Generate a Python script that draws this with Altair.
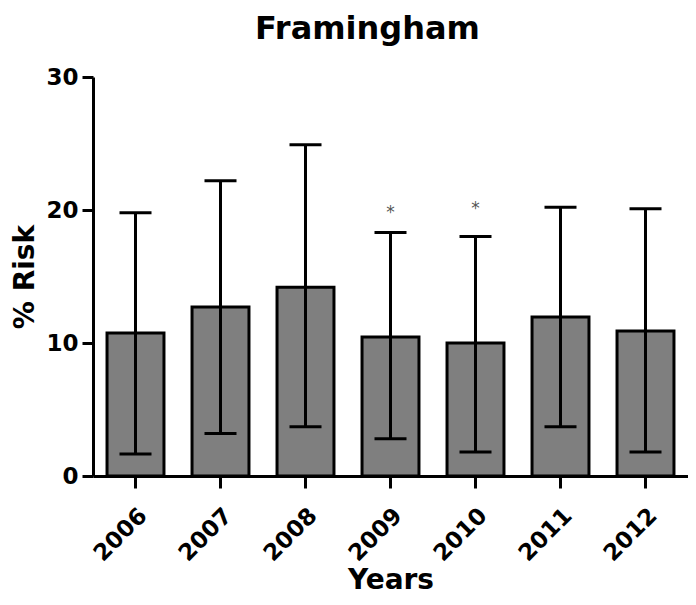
import altair as alt
import pandas as pd

years = ["2006", "2007", "2008", "2009", "2010", "2011", "2012"]
mean_risk = [10.75, 12.7, 14.2, 10.45, 10.0, 11.95, 10.9]
upper_err = [19.8, 22.2, 24.9, 18.3, 18.0, 20.2, 20.1]
lower_err = [1.65, 3.2, 3.7, 2.8, 1.8, 3.7, 1.8]
star_years = ["2009", "2010"]
star_pos = [19.8, 20.1]
star_text = ["*", "*"]
y_ticks = [0, 10, 20, 30]

df = pd.DataFrame({"Year": years, "Mean": mean_risk, "Lower": lower_err, "Upper": upper_err})
stars = pd.DataFrame({"Year": star_years, "Y": star_pos, "Label": star_text})

FONT = "DejaVu Sans"

x_enc = alt.X(
    "Year:N",
    sort=years,
    title="Years",
    scale=alt.Scale(paddingInner=0.33, paddingOuter=0.165),
    axis=alt.Axis(labelAngle=-45, labelPadding=16, tickSize=12, titlePadding=1),
)
y_scale = alt.Scale(domain=[0, 30], nice=False)

bars = alt.Chart(df).mark_bar(color="#7f7f7f", stroke="black", strokeWidth=3, opacity=1).encode(
    x=x_enc,
    y=alt.Y("Mean:Q", scale=y_scale, title="% Risk",
            axis=alt.Axis(values=y_ticks, tickSize=11, labelPadding=4, titlePadding=6)),
)
rules = alt.Chart(df).mark_rule(color="black", strokeWidth=3).encode(
    x=alt.X("Year:N", sort=years), y=alt.Y("Lower:Q", scale=y_scale), y2="Upper:Q"
)
cap_up = alt.Chart(df).mark_tick(color="black", size=32, thickness=3, opacity=1).encode(
    x=alt.X("Year:N", sort=years), y=alt.Y("Upper:Q", scale=y_scale)
)
cap_lo = alt.Chart(df).mark_tick(color="black", size=32, thickness=3, opacity=1).encode(
    x=alt.X("Year:N", sort=years), y=alt.Y("Lower:Q", scale=y_scale)
)
star = alt.Chart(stars).mark_text(fontSize=17, color="#555555", font=FONT, baseline="middle").encode(
    x=alt.X("Year:N", sort=years), y=alt.Y("Y:Q", scale=y_scale), text="Label:N"
)

chart = (
    alt.layer(bars, rules, cap_up, cap_lo, star)
    .properties(
        width=595,
        height=399,
        title=alt.Title("Framingham", font=FONT, fontSize=32, fontWeight="bold", color="black",
                        anchor="middle", dx=-23, offset=20, frame="group"),
        autosize=alt.AutoSizeParams(type="none"),
        padding={"left": 85, "top": 69, "right": 0, "bottom": 121},
    )
    .configure_view(stroke=None)
    .configure_axis(
        domainColor="black", domainWidth=3, tickColor="black", tickWidth=3,
        labelColor="black", labelFont=FONT, labelFontSize=23, labelFontWeight="bold",
        titleColor="black", titleFont=FONT, titleFontSize=28, titleFontWeight="bold",
        grid=False,
    )
)

chart.save("out.html", embed_options={"renderer": "svg", "actions": False})
